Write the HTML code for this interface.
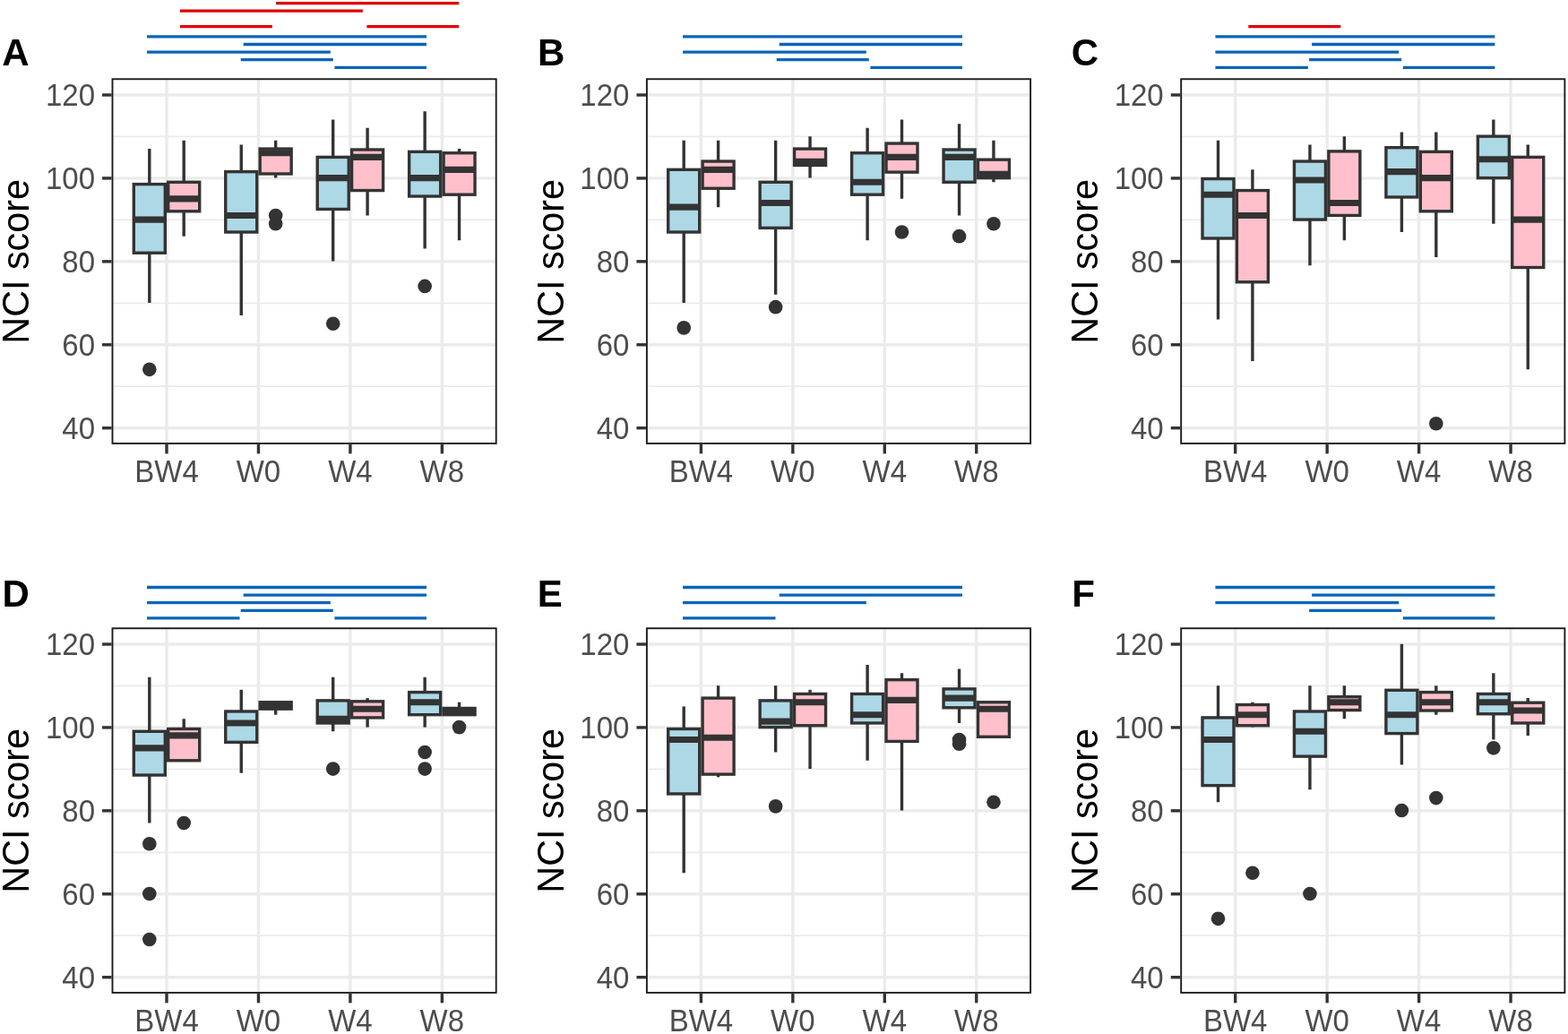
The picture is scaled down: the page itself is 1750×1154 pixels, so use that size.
<!DOCTYPE html><html><head><meta charset="utf-8"><title>NCI score boxplots</title><style>html,body{margin:0;padding:0;background:#fff;overflow:hidden;}svg{display:block;}.t{font-family:"Liberation Sans",Arial,sans-serif;}</style></head><body>
<svg width="1750" height="1154" viewBox="0 0 1750 1154">
<rect width="1750" height="1154" fill="#fff"/>
<clipPath id="cA"><rect x="124.55" y="87.3" width="430.1" height="408.55"/></clipPath>
<g clip-path="url(#cA)">
<line x1="124.55" x2="554.65" y1="431.22" y2="431.22" stroke="#EBEBEB" stroke-width="1.7"/>
<line x1="124.55" x2="554.65" y1="338.3" y2="338.3" stroke="#EBEBEB" stroke-width="1.7"/>
<line x1="124.55" x2="554.65" y1="245.38" y2="245.38" stroke="#EBEBEB" stroke-width="1.7"/>
<line x1="124.55" x2="554.65" y1="152.46" y2="152.46" stroke="#EBEBEB" stroke-width="1.7"/>
<line x1="124.55" x2="554.65" y1="477.68" y2="477.68" stroke="#EBEBEB" stroke-width="3.4"/>
<line x1="124.55" x2="554.65" y1="384.76" y2="384.76" stroke="#EBEBEB" stroke-width="3.4"/>
<line x1="124.55" x2="554.65" y1="291.84" y2="291.84" stroke="#EBEBEB" stroke-width="3.4"/>
<line x1="124.55" x2="554.65" y1="198.92" y2="198.92" stroke="#EBEBEB" stroke-width="3.4"/>
<line x1="124.55" x2="554.65" y1="106" y2="106" stroke="#EBEBEB" stroke-width="3.4"/>
<line x1="186" x2="186" y1="87.3" y2="495.85" stroke="#EBEBEB" stroke-width="3.4"/>
<line x1="288.45" x2="288.45" y1="87.3" y2="495.85" stroke="#EBEBEB" stroke-width="3.4"/>
<line x1="390.9" x2="390.9" y1="87.3" y2="495.85" stroke="#EBEBEB" stroke-width="3.4"/>
<line x1="493.35" x2="493.35" y1="87.3" y2="495.85" stroke="#EBEBEB" stroke-width="3.4"/>
<line x1="166.8" x2="166.8" y1="166.1" y2="205.59" stroke="#333333" stroke-width="3.4"/>
<line x1="166.8" x2="166.8" y1="282.25" y2="338" stroke="#333333" stroke-width="3.4"/>
<rect x="149.3" y="205.59" width="35" height="76.66" fill="#ADD8E6" stroke="#333333" stroke-width="3.4"/>
<line x1="149.3" x2="184.3" y1="245.08" y2="245.08" stroke="#333333" stroke-width="7.1"/>
<circle cx="166.8" cy="412.34" r="7.8" fill="#333333"/>
<line x1="205.2" x2="205.2" y1="156.81" y2="203.27" stroke="#333333" stroke-width="3.4"/>
<line x1="205.2" x2="205.2" y1="235.79" y2="263.66" stroke="#333333" stroke-width="3.4"/>
<rect x="187.7" y="203.27" width="35" height="32.52" fill="#FFC0CB" stroke="#333333" stroke-width="3.4"/>
<line x1="187.7" x2="222.7" y1="221.85" y2="221.85" stroke="#333333" stroke-width="7.1"/>
<line x1="269.25" x2="269.25" y1="161.45" y2="191.65" stroke="#333333" stroke-width="3.4"/>
<line x1="269.25" x2="269.25" y1="259.02" y2="351.94" stroke="#333333" stroke-width="3.4"/>
<rect x="251.75" y="191.65" width="35" height="67.37" fill="#ADD8E6" stroke="#333333" stroke-width="3.4"/>
<line x1="251.75" x2="286.75" y1="240.43" y2="240.43" stroke="#333333" stroke-width="7.1"/>
<line x1="307.65" x2="307.65" y1="156.81" y2="166.1" stroke="#333333" stroke-width="3.4"/>
<line x1="307.65" x2="307.65" y1="193.97" y2="198.62" stroke="#333333" stroke-width="3.4"/>
<rect x="290.15" y="166.1" width="35" height="27.88" fill="#FFC0CB" stroke="#333333" stroke-width="3.4"/>
<line x1="290.15" x2="325.15" y1="170.74" y2="170.74" stroke="#333333" stroke-width="7.1"/>
<circle cx="307.65" cy="240.43" r="7.8" fill="#333333"/>
<circle cx="307.65" cy="249.73" r="7.8" fill="#333333"/>
<line x1="371.7" x2="371.7" y1="133.58" y2="175.39" stroke="#333333" stroke-width="3.4"/>
<line x1="371.7" x2="371.7" y1="233.46" y2="291.54" stroke="#333333" stroke-width="3.4"/>
<rect x="354.2" y="175.39" width="35" height="58.07" fill="#ADD8E6" stroke="#333333" stroke-width="3.4"/>
<line x1="354.2" x2="389.2" y1="198.62" y2="198.62" stroke="#333333" stroke-width="7.1"/>
<circle cx="371.7" cy="361.23" r="7.8" fill="#333333"/>
<line x1="410.1" x2="410.1" y1="142.87" y2="167.03" stroke="#333333" stroke-width="3.4"/>
<line x1="410.1" x2="410.1" y1="212.56" y2="240.43" stroke="#333333" stroke-width="3.4"/>
<rect x="392.6" y="167.03" width="35" height="45.53" fill="#FFC0CB" stroke="#333333" stroke-width="3.4"/>
<line x1="392.6" x2="427.6" y1="175.39" y2="175.39" stroke="#333333" stroke-width="7.1"/>
<line x1="474.15" x2="474.15" y1="124.28" y2="169.35" stroke="#333333" stroke-width="3.4"/>
<line x1="474.15" x2="474.15" y1="219.06" y2="277.6" stroke="#333333" stroke-width="3.4"/>
<rect x="456.65" y="169.35" width="35" height="49.71" fill="#ADD8E6" stroke="#333333" stroke-width="3.4"/>
<line x1="456.65" x2="491.65" y1="198.62" y2="198.62" stroke="#333333" stroke-width="7.1"/>
<circle cx="474.15" cy="319.42" r="7.8" fill="#333333"/>
<line x1="512.55" x2="512.55" y1="166.1" y2="170.74" stroke="#333333" stroke-width="3.4"/>
<line x1="512.55" x2="512.55" y1="217.2" y2="268.31" stroke="#333333" stroke-width="3.4"/>
<rect x="495.05" y="170.74" width="35" height="46.46" fill="#FFC0CB" stroke="#333333" stroke-width="3.4"/>
<line x1="495.05" x2="530.05" y1="189.33" y2="189.33" stroke="#333333" stroke-width="7.1"/>
</g>
<rect x="125.5" y="88.25" width="428.2" height="406.65" fill="none" stroke="#1c1c1c" stroke-width="1.9"/>
<line x1="114.05" x2="124.55" y1="477.68" y2="477.68" stroke="#333333" stroke-width="3.4"/>
<line x1="114.05" x2="124.55" y1="384.76" y2="384.76" stroke="#333333" stroke-width="3.4"/>
<line x1="114.05" x2="124.55" y1="291.84" y2="291.84" stroke="#333333" stroke-width="3.4"/>
<line x1="114.05" x2="124.55" y1="198.92" y2="198.92" stroke="#333333" stroke-width="3.4"/>
<line x1="114.05" x2="124.55" y1="106" y2="106" stroke="#333333" stroke-width="3.4"/>
<line x1="186" x2="186" y1="495.85" y2="506.35" stroke="#333333" stroke-width="3.4"/>
<line x1="288.45" x2="288.45" y1="495.85" y2="506.35" stroke="#333333" stroke-width="3.4"/>
<line x1="390.9" x2="390.9" y1="495.85" y2="506.35" stroke="#333333" stroke-width="3.4"/>
<line x1="493.35" x2="493.35" y1="495.85" y2="506.35" stroke="#333333" stroke-width="3.4"/>
<text class="t" transform="translate(106 477.28) scale(1 1.05)" font-size="33" fill="#4D4D4D" text-anchor="end" dominant-baseline="central">40</text>
<text class="t" transform="translate(106 384.36) scale(1 1.05)" font-size="33" fill="#4D4D4D" text-anchor="end" dominant-baseline="central">60</text>
<text class="t" transform="translate(106 291.44) scale(1 1.05)" font-size="33" fill="#4D4D4D" text-anchor="end" dominant-baseline="central">80</text>
<text class="t" transform="translate(106 198.52) scale(1 1.05)" font-size="33" fill="#4D4D4D" text-anchor="end" dominant-baseline="central">100</text>
<text class="t" transform="translate(106 105.6) scale(1 1.05)" font-size="33" fill="#4D4D4D" text-anchor="end" dominant-baseline="central">120</text>
<text class="t" transform="translate(186 538.1) scale(1 1.05)" font-size="33" fill="#4D4D4D" text-anchor="middle">BW4</text>
<text class="t" transform="translate(288.45 538.1) scale(1 1.05)" font-size="33" fill="#4D4D4D" text-anchor="middle">W0</text>
<text class="t" transform="translate(390.9 538.1) scale(1 1.05)" font-size="33" fill="#4D4D4D" text-anchor="middle">W4</text>
<text class="t" transform="translate(493.35 538.1) scale(1 1.05)" font-size="33" fill="#4D4D4D" text-anchor="middle">W8</text>
<text class="t" font-size="41.3" fill="#000" text-anchor="middle" transform="translate(32.3 291.9) rotate(-90) scale(1 1.04)">NCI score</text>
<text class="t" x="2.36" y="73.4" font-size="42" font-weight="bold" fill="#000">A</text>
<line x1="164" x2="476" y1="40.9" y2="40.9" stroke="#0864B8" stroke-width="3.3"/>
<line x1="271.7" x2="476" y1="49.5" y2="49.5" stroke="#0864B8" stroke-width="3.3"/>
<line x1="164" x2="368.8" y1="58.05" y2="58.05" stroke="#0864B8" stroke-width="3.3"/>
<line x1="268.7" x2="371.8" y1="66.7" y2="66.7" stroke="#0864B8" stroke-width="3.3"/>
<line x1="373.4" x2="476" y1="75.35" y2="75.35" stroke="#0864B8" stroke-width="3.3"/>
<line x1="308.1" x2="512.2" y1="3.66" y2="3.66" stroke="#E00000" stroke-width="3.3"/>
<line x1="200.9" x2="404.9" y1="12.2" y2="12.2" stroke="#E00000" stroke-width="3.3"/>
<line x1="200.9" x2="303.9" y1="29.7" y2="29.7" stroke="#E00000" stroke-width="3.3"/>
<line x1="409.4" x2="512.2" y1="29.7" y2="29.7" stroke="#E00000" stroke-width="3.3"/>
<clipPath id="cB"><rect x="720.95" y="87.3" width="430.1" height="408.55"/></clipPath>
<g clip-path="url(#cB)">
<line x1="720.95" x2="1151.05" y1="431.22" y2="431.22" stroke="#EBEBEB" stroke-width="1.7"/>
<line x1="720.95" x2="1151.05" y1="338.3" y2="338.3" stroke="#EBEBEB" stroke-width="1.7"/>
<line x1="720.95" x2="1151.05" y1="245.38" y2="245.38" stroke="#EBEBEB" stroke-width="1.7"/>
<line x1="720.95" x2="1151.05" y1="152.46" y2="152.46" stroke="#EBEBEB" stroke-width="1.7"/>
<line x1="720.95" x2="1151.05" y1="477.68" y2="477.68" stroke="#EBEBEB" stroke-width="3.4"/>
<line x1="720.95" x2="1151.05" y1="384.76" y2="384.76" stroke="#EBEBEB" stroke-width="3.4"/>
<line x1="720.95" x2="1151.05" y1="291.84" y2="291.84" stroke="#EBEBEB" stroke-width="3.4"/>
<line x1="720.95" x2="1151.05" y1="198.92" y2="198.92" stroke="#EBEBEB" stroke-width="3.4"/>
<line x1="720.95" x2="1151.05" y1="106" y2="106" stroke="#EBEBEB" stroke-width="3.4"/>
<line x1="782.4" x2="782.4" y1="87.3" y2="495.85" stroke="#EBEBEB" stroke-width="3.4"/>
<line x1="884.85" x2="884.85" y1="87.3" y2="495.85" stroke="#EBEBEB" stroke-width="3.4"/>
<line x1="987.3" x2="987.3" y1="87.3" y2="495.85" stroke="#EBEBEB" stroke-width="3.4"/>
<line x1="1089.75" x2="1089.75" y1="87.3" y2="495.85" stroke="#EBEBEB" stroke-width="3.4"/>
<line x1="763.2" x2="763.2" y1="156.81" y2="189.33" stroke="#333333" stroke-width="3.4"/>
<line x1="763.2" x2="763.2" y1="259.02" y2="338" stroke="#333333" stroke-width="3.4"/>
<rect x="745.7" y="189.33" width="35" height="69.69" fill="#ADD8E6" stroke="#333333" stroke-width="3.4"/>
<line x1="745.7" x2="780.7" y1="231.14" y2="231.14" stroke="#333333" stroke-width="7.1"/>
<circle cx="763.2" cy="365.88" r="7.8" fill="#333333"/>
<line x1="801.6" x2="801.6" y1="156.81" y2="180.04" stroke="#333333" stroke-width="3.4"/>
<line x1="801.6" x2="801.6" y1="210.23" y2="231.14" stroke="#333333" stroke-width="3.4"/>
<rect x="784.1" y="180.04" width="35" height="30.2" fill="#FFC0CB" stroke="#333333" stroke-width="3.4"/>
<line x1="784.1" x2="819.1" y1="189.33" y2="189.33" stroke="#333333" stroke-width="7.1"/>
<line x1="865.65" x2="865.65" y1="156.81" y2="203.27" stroke="#333333" stroke-width="3.4"/>
<line x1="865.65" x2="865.65" y1="254.37" y2="328.71" stroke="#333333" stroke-width="3.4"/>
<rect x="848.15" y="203.27" width="35" height="51.11" fill="#ADD8E6" stroke="#333333" stroke-width="3.4"/>
<line x1="848.15" x2="883.15" y1="226.5" y2="226.5" stroke="#333333" stroke-width="7.1"/>
<circle cx="865.65" cy="342.65" r="7.8" fill="#333333"/>
<line x1="904.05" x2="904.05" y1="152.16" y2="166.1" stroke="#333333" stroke-width="3.4"/>
<line x1="904.05" x2="904.05" y1="184.45" y2="198.62" stroke="#333333" stroke-width="3.4"/>
<rect x="886.55" y="166.1" width="35" height="18.35" fill="#FFC0CB" stroke="#333333" stroke-width="3.4"/>
<line x1="886.55" x2="921.55" y1="180.27" y2="180.27" stroke="#333333" stroke-width="7.1"/>
<line x1="968.1" x2="968.1" y1="142.87" y2="170.74" stroke="#333333" stroke-width="3.4"/>
<line x1="968.1" x2="968.1" y1="217.2" y2="268.31" stroke="#333333" stroke-width="3.4"/>
<rect x="950.6" y="170.74" width="35" height="46.46" fill="#ADD8E6" stroke="#333333" stroke-width="3.4"/>
<line x1="950.6" x2="985.6" y1="203.27" y2="203.27" stroke="#333333" stroke-width="7.1"/>
<line x1="1006.5" x2="1006.5" y1="133.58" y2="160.06" stroke="#333333" stroke-width="3.4"/>
<line x1="1006.5" x2="1006.5" y1="192.12" y2="221.85" stroke="#333333" stroke-width="3.4"/>
<rect x="989" y="160.06" width="35" height="32.06" fill="#FFC0CB" stroke="#333333" stroke-width="3.4"/>
<line x1="989" x2="1024" y1="175.39" y2="175.39" stroke="#333333" stroke-width="7.1"/>
<circle cx="1006.5" cy="259.02" r="7.8" fill="#333333"/>
<line x1="1070.55" x2="1070.55" y1="138.22" y2="167.03" stroke="#333333" stroke-width="3.4"/>
<line x1="1070.55" x2="1070.55" y1="203.27" y2="240.43" stroke="#333333" stroke-width="3.4"/>
<rect x="1053.05" y="167.03" width="35" height="36.24" fill="#ADD8E6" stroke="#333333" stroke-width="3.4"/>
<line x1="1053.05" x2="1088.05" y1="175.39" y2="175.39" stroke="#333333" stroke-width="7.1"/>
<circle cx="1070.55" cy="263.66" r="7.8" fill="#333333"/>
<line x1="1108.95" x2="1108.95" y1="156.81" y2="178.18" stroke="#333333" stroke-width="3.4"/>
<line x1="1108.95" x2="1108.95" y1="198.62" y2="203.27" stroke="#333333" stroke-width="3.4"/>
<rect x="1091.45" y="178.18" width="35" height="20.44" fill="#FFC0CB" stroke="#333333" stroke-width="3.4"/>
<line x1="1091.45" x2="1126.45" y1="194.21" y2="194.21" stroke="#333333" stroke-width="7.1"/>
<circle cx="1108.95" cy="249.73" r="7.8" fill="#333333"/>
</g>
<rect x="721.9" y="88.25" width="428.2" height="406.65" fill="none" stroke="#1c1c1c" stroke-width="1.9"/>
<line x1="710.45" x2="720.95" y1="477.68" y2="477.68" stroke="#333333" stroke-width="3.4"/>
<line x1="710.45" x2="720.95" y1="384.76" y2="384.76" stroke="#333333" stroke-width="3.4"/>
<line x1="710.45" x2="720.95" y1="291.84" y2="291.84" stroke="#333333" stroke-width="3.4"/>
<line x1="710.45" x2="720.95" y1="198.92" y2="198.92" stroke="#333333" stroke-width="3.4"/>
<line x1="710.45" x2="720.95" y1="106" y2="106" stroke="#333333" stroke-width="3.4"/>
<line x1="782.4" x2="782.4" y1="495.85" y2="506.35" stroke="#333333" stroke-width="3.4"/>
<line x1="884.85" x2="884.85" y1="495.85" y2="506.35" stroke="#333333" stroke-width="3.4"/>
<line x1="987.3" x2="987.3" y1="495.85" y2="506.35" stroke="#333333" stroke-width="3.4"/>
<line x1="1089.75" x2="1089.75" y1="495.85" y2="506.35" stroke="#333333" stroke-width="3.4"/>
<text class="t" transform="translate(702.4 477.28) scale(1 1.05)" font-size="33" fill="#4D4D4D" text-anchor="end" dominant-baseline="central">40</text>
<text class="t" transform="translate(702.4 384.36) scale(1 1.05)" font-size="33" fill="#4D4D4D" text-anchor="end" dominant-baseline="central">60</text>
<text class="t" transform="translate(702.4 291.44) scale(1 1.05)" font-size="33" fill="#4D4D4D" text-anchor="end" dominant-baseline="central">80</text>
<text class="t" transform="translate(702.4 198.52) scale(1 1.05)" font-size="33" fill="#4D4D4D" text-anchor="end" dominant-baseline="central">100</text>
<text class="t" transform="translate(702.4 105.6) scale(1 1.05)" font-size="33" fill="#4D4D4D" text-anchor="end" dominant-baseline="central">120</text>
<text class="t" transform="translate(782.4 538.1) scale(1 1.05)" font-size="33" fill="#4D4D4D" text-anchor="middle">BW4</text>
<text class="t" transform="translate(884.85 538.1) scale(1 1.05)" font-size="33" fill="#4D4D4D" text-anchor="middle">W0</text>
<text class="t" transform="translate(987.3 538.1) scale(1 1.05)" font-size="33" fill="#4D4D4D" text-anchor="middle">W4</text>
<text class="t" transform="translate(1089.75 538.1) scale(1 1.05)" font-size="33" fill="#4D4D4D" text-anchor="middle">W8</text>
<text class="t" font-size="41.3" fill="#000" text-anchor="middle" transform="translate(628.7 291.9) rotate(-90) scale(1 1.04)">NCI score</text>
<text class="t" x="599.93" y="73.4" font-size="42" font-weight="bold" fill="#000">B</text>
<line x1="762" x2="1074" y1="40.9" y2="40.9" stroke="#0864B8" stroke-width="3.3"/>
<line x1="869.7" x2="1074" y1="49.5" y2="49.5" stroke="#0864B8" stroke-width="3.3"/>
<line x1="762" x2="966.8" y1="58.05" y2="58.05" stroke="#0864B8" stroke-width="3.3"/>
<line x1="866.7" x2="969.8" y1="66.7" y2="66.7" stroke="#0864B8" stroke-width="3.3"/>
<line x1="971.4" x2="1074" y1="75.35" y2="75.35" stroke="#0864B8" stroke-width="3.3"/>
<clipPath id="cC"><rect x="1317.25" y="87.3" width="430.1" height="408.55"/></clipPath>
<g clip-path="url(#cC)">
<line x1="1317.25" x2="1747.35" y1="431.22" y2="431.22" stroke="#EBEBEB" stroke-width="1.7"/>
<line x1="1317.25" x2="1747.35" y1="338.3" y2="338.3" stroke="#EBEBEB" stroke-width="1.7"/>
<line x1="1317.25" x2="1747.35" y1="245.38" y2="245.38" stroke="#EBEBEB" stroke-width="1.7"/>
<line x1="1317.25" x2="1747.35" y1="152.46" y2="152.46" stroke="#EBEBEB" stroke-width="1.7"/>
<line x1="1317.25" x2="1747.35" y1="477.68" y2="477.68" stroke="#EBEBEB" stroke-width="3.4"/>
<line x1="1317.25" x2="1747.35" y1="384.76" y2="384.76" stroke="#EBEBEB" stroke-width="3.4"/>
<line x1="1317.25" x2="1747.35" y1="291.84" y2="291.84" stroke="#EBEBEB" stroke-width="3.4"/>
<line x1="1317.25" x2="1747.35" y1="198.92" y2="198.92" stroke="#EBEBEB" stroke-width="3.4"/>
<line x1="1317.25" x2="1747.35" y1="106" y2="106" stroke="#EBEBEB" stroke-width="3.4"/>
<line x1="1378.7" x2="1378.7" y1="87.3" y2="495.85" stroke="#EBEBEB" stroke-width="3.4"/>
<line x1="1481.15" x2="1481.15" y1="87.3" y2="495.85" stroke="#EBEBEB" stroke-width="3.4"/>
<line x1="1583.6" x2="1583.6" y1="87.3" y2="495.85" stroke="#EBEBEB" stroke-width="3.4"/>
<line x1="1686.05" x2="1686.05" y1="87.3" y2="495.85" stroke="#EBEBEB" stroke-width="3.4"/>
<line x1="1359.5" x2="1359.5" y1="156.81" y2="199.55" stroke="#333333" stroke-width="3.4"/>
<line x1="1359.5" x2="1359.5" y1="265.99" y2="356.58" stroke="#333333" stroke-width="3.4"/>
<rect x="1342" y="199.55" width="35" height="66.44" fill="#ADD8E6" stroke="#333333" stroke-width="3.4"/>
<line x1="1342" x2="1377" y1="217.2" y2="217.2" stroke="#333333" stroke-width="7.1"/>
<line x1="1397.9" x2="1397.9" y1="189.33" y2="212.56" stroke="#333333" stroke-width="3.4"/>
<line x1="1397.9" x2="1397.9" y1="314.77" y2="403.04" stroke="#333333" stroke-width="3.4"/>
<rect x="1380.4" y="212.56" width="35" height="102.21" fill="#FFC0CB" stroke="#333333" stroke-width="3.4"/>
<line x1="1380.4" x2="1415.4" y1="240.43" y2="240.43" stroke="#333333" stroke-width="7.1"/>
<line x1="1461.95" x2="1461.95" y1="161.45" y2="180.04" stroke="#333333" stroke-width="3.4"/>
<line x1="1461.95" x2="1461.95" y1="245.08" y2="296.19" stroke="#333333" stroke-width="3.4"/>
<rect x="1444.45" y="180.04" width="35" height="65.04" fill="#ADD8E6" stroke="#333333" stroke-width="3.4"/>
<line x1="1444.45" x2="1479.45" y1="200.94" y2="200.94" stroke="#333333" stroke-width="7.1"/>
<line x1="1500.35" x2="1500.35" y1="152.16" y2="168.89" stroke="#333333" stroke-width="3.4"/>
<line x1="1500.35" x2="1500.35" y1="240.43" y2="268.31" stroke="#333333" stroke-width="3.4"/>
<rect x="1482.85" y="168.89" width="35" height="71.55" fill="#FFC0CB" stroke="#333333" stroke-width="3.4"/>
<line x1="1482.85" x2="1517.85" y1="226.5" y2="226.5" stroke="#333333" stroke-width="7.1"/>
<line x1="1564.4" x2="1564.4" y1="147.51" y2="164.7" stroke="#333333" stroke-width="3.4"/>
<line x1="1564.4" x2="1564.4" y1="219.99" y2="259.02" stroke="#333333" stroke-width="3.4"/>
<rect x="1546.9" y="164.7" width="35" height="55.29" fill="#ADD8E6" stroke="#333333" stroke-width="3.4"/>
<line x1="1546.9" x2="1581.9" y1="191.65" y2="191.65" stroke="#333333" stroke-width="7.1"/>
<line x1="1602.8" x2="1602.8" y1="147.51" y2="169.35" stroke="#333333" stroke-width="3.4"/>
<line x1="1602.8" x2="1602.8" y1="235.79" y2="286.89" stroke="#333333" stroke-width="3.4"/>
<rect x="1585.3" y="169.35" width="35" height="66.44" fill="#FFC0CB" stroke="#333333" stroke-width="3.4"/>
<line x1="1585.3" x2="1620.3" y1="198.62" y2="198.62" stroke="#333333" stroke-width="7.1"/>
<circle cx="1602.8" cy="472.73" r="7.8" fill="#333333"/>
<line x1="1666.85" x2="1666.85" y1="133.58" y2="152.16" stroke="#333333" stroke-width="3.4"/>
<line x1="1666.85" x2="1666.85" y1="198.62" y2="249.73" stroke="#333333" stroke-width="3.4"/>
<rect x="1649.35" y="152.16" width="35" height="46.46" fill="#ADD8E6" stroke="#333333" stroke-width="3.4"/>
<line x1="1649.35" x2="1684.35" y1="177.71" y2="177.71" stroke="#333333" stroke-width="7.1"/>
<line x1="1705.25" x2="1705.25" y1="161.45" y2="175.39" stroke="#333333" stroke-width="3.4"/>
<line x1="1705.25" x2="1705.25" y1="298.51" y2="412.34" stroke="#333333" stroke-width="3.4"/>
<rect x="1687.75" y="175.39" width="35" height="123.12" fill="#FFC0CB" stroke="#333333" stroke-width="3.4"/>
<line x1="1687.75" x2="1722.75" y1="245.08" y2="245.08" stroke="#333333" stroke-width="7.1"/>
</g>
<rect x="1318.2" y="88.25" width="428.2" height="406.65" fill="none" stroke="#1c1c1c" stroke-width="1.9"/>
<line x1="1306.75" x2="1317.25" y1="477.68" y2="477.68" stroke="#333333" stroke-width="3.4"/>
<line x1="1306.75" x2="1317.25" y1="384.76" y2="384.76" stroke="#333333" stroke-width="3.4"/>
<line x1="1306.75" x2="1317.25" y1="291.84" y2="291.84" stroke="#333333" stroke-width="3.4"/>
<line x1="1306.75" x2="1317.25" y1="198.92" y2="198.92" stroke="#333333" stroke-width="3.4"/>
<line x1="1306.75" x2="1317.25" y1="106" y2="106" stroke="#333333" stroke-width="3.4"/>
<line x1="1378.7" x2="1378.7" y1="495.85" y2="506.35" stroke="#333333" stroke-width="3.4"/>
<line x1="1481.15" x2="1481.15" y1="495.85" y2="506.35" stroke="#333333" stroke-width="3.4"/>
<line x1="1583.6" x2="1583.6" y1="495.85" y2="506.35" stroke="#333333" stroke-width="3.4"/>
<line x1="1686.05" x2="1686.05" y1="495.85" y2="506.35" stroke="#333333" stroke-width="3.4"/>
<text class="t" transform="translate(1298.7 477.28) scale(1 1.05)" font-size="33" fill="#4D4D4D" text-anchor="end" dominant-baseline="central">40</text>
<text class="t" transform="translate(1298.7 384.36) scale(1 1.05)" font-size="33" fill="#4D4D4D" text-anchor="end" dominant-baseline="central">60</text>
<text class="t" transform="translate(1298.7 291.44) scale(1 1.05)" font-size="33" fill="#4D4D4D" text-anchor="end" dominant-baseline="central">80</text>
<text class="t" transform="translate(1298.7 198.52) scale(1 1.05)" font-size="33" fill="#4D4D4D" text-anchor="end" dominant-baseline="central">100</text>
<text class="t" transform="translate(1298.7 105.6) scale(1 1.05)" font-size="33" fill="#4D4D4D" text-anchor="end" dominant-baseline="central">120</text>
<text class="t" transform="translate(1378.7 538.1) scale(1 1.05)" font-size="33" fill="#4D4D4D" text-anchor="middle">BW4</text>
<text class="t" transform="translate(1481.15 538.1) scale(1 1.05)" font-size="33" fill="#4D4D4D" text-anchor="middle">W0</text>
<text class="t" transform="translate(1583.6 538.1) scale(1 1.05)" font-size="33" fill="#4D4D4D" text-anchor="middle">W4</text>
<text class="t" transform="translate(1686.05 538.1) scale(1 1.05)" font-size="33" fill="#4D4D4D" text-anchor="middle">W8</text>
<text class="t" font-size="41.3" fill="#000" text-anchor="middle" transform="translate(1225 291.9) rotate(-90) scale(1 1.04)">NCI score</text>
<text class="t" x="1195.75" y="73.4" font-size="42" font-weight="bold" fill="#000">C</text>
<line x1="1356.4" x2="1668.4" y1="40.9" y2="40.9" stroke="#0864B8" stroke-width="3.3"/>
<line x1="1464.1" x2="1668.4" y1="49.5" y2="49.5" stroke="#0864B8" stroke-width="3.3"/>
<line x1="1356.4" x2="1561.2" y1="58.05" y2="58.05" stroke="#0864B8" stroke-width="3.3"/>
<line x1="1461.1" x2="1564.2" y1="66.7" y2="66.7" stroke="#0864B8" stroke-width="3.3"/>
<line x1="1356.4" x2="1459.9" y1="75.35" y2="75.35" stroke="#0864B8" stroke-width="3.3"/>
<line x1="1565.8" x2="1668.4" y1="75.35" y2="75.35" stroke="#0864B8" stroke-width="3.3"/>
<line x1="1393.3" x2="1496.3" y1="29.6" y2="29.6" stroke="#E00000" stroke-width="3.3"/>
<clipPath id="cD"><rect x="124.55" y="700.3" width="430.1" height="408.55"/></clipPath>
<g clip-path="url(#cD)">
<line x1="124.55" x2="554.65" y1="1044.22" y2="1044.22" stroke="#EBEBEB" stroke-width="1.7"/>
<line x1="124.55" x2="554.65" y1="951.3" y2="951.3" stroke="#EBEBEB" stroke-width="1.7"/>
<line x1="124.55" x2="554.65" y1="858.38" y2="858.38" stroke="#EBEBEB" stroke-width="1.7"/>
<line x1="124.55" x2="554.65" y1="765.46" y2="765.46" stroke="#EBEBEB" stroke-width="1.7"/>
<line x1="124.55" x2="554.65" y1="1090.68" y2="1090.68" stroke="#EBEBEB" stroke-width="3.4"/>
<line x1="124.55" x2="554.65" y1="997.76" y2="997.76" stroke="#EBEBEB" stroke-width="3.4"/>
<line x1="124.55" x2="554.65" y1="904.84" y2="904.84" stroke="#EBEBEB" stroke-width="3.4"/>
<line x1="124.55" x2="554.65" y1="811.92" y2="811.92" stroke="#EBEBEB" stroke-width="3.4"/>
<line x1="124.55" x2="554.65" y1="719" y2="719" stroke="#EBEBEB" stroke-width="3.4"/>
<line x1="186" x2="186" y1="700.3" y2="1108.85" stroke="#EBEBEB" stroke-width="3.4"/>
<line x1="288.45" x2="288.45" y1="700.3" y2="1108.85" stroke="#EBEBEB" stroke-width="3.4"/>
<line x1="390.9" x2="390.9" y1="700.3" y2="1108.85" stroke="#EBEBEB" stroke-width="3.4"/>
<line x1="493.35" x2="493.35" y1="700.3" y2="1108.85" stroke="#EBEBEB" stroke-width="3.4"/>
<line x1="166.8" x2="166.8" y1="755.87" y2="816.27" stroke="#333333" stroke-width="3.4"/>
<line x1="166.8" x2="166.8" y1="865.05" y2="918.48" stroke="#333333" stroke-width="3.4"/>
<rect x="149.3" y="816.27" width="35" height="48.78" fill="#ADD8E6" stroke="#333333" stroke-width="3.4"/>
<line x1="149.3" x2="184.3" y1="834.85" y2="834.85" stroke="#333333" stroke-width="7.1"/>
<circle cx="166.8" cy="941.71" r="7.8" fill="#333333"/>
<circle cx="166.8" cy="997.46" r="7.8" fill="#333333"/>
<circle cx="166.8" cy="1048.57" r="7.8" fill="#333333"/>
<line x1="205.2" x2="205.2" y1="802.33" y2="813.48" stroke="#333333" stroke-width="3.4"/>
<rect x="187.7" y="813.48" width="35" height="35.31" fill="#FFC0CB" stroke="#333333" stroke-width="3.4"/>
<line x1="187.7" x2="222.7" y1="820.91" y2="820.91" stroke="#333333" stroke-width="7.1"/>
<circle cx="205.2" cy="918.48" r="7.8" fill="#333333"/>
<line x1="269.25" x2="269.25" y1="769.81" y2="793.97" stroke="#333333" stroke-width="3.4"/>
<line x1="269.25" x2="269.25" y1="828.35" y2="862.73" stroke="#333333" stroke-width="3.4"/>
<rect x="251.75" y="793.97" width="35" height="34.38" fill="#ADD8E6" stroke="#333333" stroke-width="3.4"/>
<line x1="251.75" x2="286.75" y1="806.97" y2="806.97" stroke="#333333" stroke-width="7.1"/>
<line x1="307.65" x2="307.65" y1="791.18" y2="797.68" stroke="#333333" stroke-width="3.4"/>
<rect x="290.15" y="783.74" width="35" height="7.43" fill="#FFC0CB" stroke="#333333" stroke-width="3.4"/>
<line x1="290.15" x2="325.15" y1="788.39" y2="788.39" stroke="#333333" stroke-width="7.1"/>
<line x1="371.7" x2="371.7" y1="755.87" y2="781.89" stroke="#333333" stroke-width="3.4"/>
<line x1="371.7" x2="371.7" y1="806.97" y2="816.27" stroke="#333333" stroke-width="3.4"/>
<rect x="354.2" y="781.89" width="35" height="25.09" fill="#ADD8E6" stroke="#333333" stroke-width="3.4"/>
<line x1="354.2" x2="389.2" y1="802.33" y2="802.33" stroke="#333333" stroke-width="7.1"/>
<circle cx="371.7" cy="858.08" r="7.8" fill="#333333"/>
<line x1="410.1" x2="410.1" y1="779.1" y2="782.81" stroke="#333333" stroke-width="3.4"/>
<line x1="410.1" x2="410.1" y1="800.93" y2="811.62" stroke="#333333" stroke-width="3.4"/>
<rect x="392.6" y="782.81" width="35" height="18.12" fill="#FFC0CB" stroke="#333333" stroke-width="3.4"/>
<line x1="392.6" x2="427.6" y1="791.18" y2="791.18" stroke="#333333" stroke-width="7.1"/>
<line x1="474.15" x2="474.15" y1="755.87" y2="772.59" stroke="#333333" stroke-width="3.4"/>
<line x1="474.15" x2="474.15" y1="797.68" y2="811.62" stroke="#333333" stroke-width="3.4"/>
<rect x="456.65" y="772.59" width="35" height="25.09" fill="#ADD8E6" stroke="#333333" stroke-width="3.4"/>
<line x1="456.65" x2="491.65" y1="783.74" y2="783.74" stroke="#333333" stroke-width="7.1"/>
<circle cx="474.15" cy="839.5" r="7.8" fill="#333333"/>
<circle cx="474.15" cy="858.08" r="7.8" fill="#333333"/>
<line x1="512.55" x2="512.55" y1="783.74" y2="790.48" stroke="#333333" stroke-width="3.4"/>
<rect x="495.05" y="790.48" width="35" height="7.2" fill="#FFC0CB" stroke="#333333" stroke-width="3.4"/>
<line x1="495.05" x2="530.05" y1="793.04" y2="793.04" stroke="#333333" stroke-width="7.1"/>
<circle cx="512.55" cy="811.62" r="7.8" fill="#333333"/>
</g>
<rect x="125.5" y="701.25" width="428.2" height="406.65" fill="none" stroke="#1c1c1c" stroke-width="1.9"/>
<line x1="114.05" x2="124.55" y1="1090.68" y2="1090.68" stroke="#333333" stroke-width="3.4"/>
<line x1="114.05" x2="124.55" y1="997.76" y2="997.76" stroke="#333333" stroke-width="3.4"/>
<line x1="114.05" x2="124.55" y1="904.84" y2="904.84" stroke="#333333" stroke-width="3.4"/>
<line x1="114.05" x2="124.55" y1="811.92" y2="811.92" stroke="#333333" stroke-width="3.4"/>
<line x1="114.05" x2="124.55" y1="719" y2="719" stroke="#333333" stroke-width="3.4"/>
<line x1="186" x2="186" y1="1108.85" y2="1119.35" stroke="#333333" stroke-width="3.4"/>
<line x1="288.45" x2="288.45" y1="1108.85" y2="1119.35" stroke="#333333" stroke-width="3.4"/>
<line x1="390.9" x2="390.9" y1="1108.85" y2="1119.35" stroke="#333333" stroke-width="3.4"/>
<line x1="493.35" x2="493.35" y1="1108.85" y2="1119.35" stroke="#333333" stroke-width="3.4"/>
<text class="t" transform="translate(106 1090.28) scale(1 1.05)" font-size="33" fill="#4D4D4D" text-anchor="end" dominant-baseline="central">40</text>
<text class="t" transform="translate(106 997.36) scale(1 1.05)" font-size="33" fill="#4D4D4D" text-anchor="end" dominant-baseline="central">60</text>
<text class="t" transform="translate(106 904.44) scale(1 1.05)" font-size="33" fill="#4D4D4D" text-anchor="end" dominant-baseline="central">80</text>
<text class="t" transform="translate(106 811.52) scale(1 1.05)" font-size="33" fill="#4D4D4D" text-anchor="end" dominant-baseline="central">100</text>
<text class="t" transform="translate(106 718.6) scale(1 1.05)" font-size="33" fill="#4D4D4D" text-anchor="end" dominant-baseline="central">120</text>
<text class="t" transform="translate(186 1151.1) scale(1 1.05)" font-size="33" fill="#4D4D4D" text-anchor="middle">BW4</text>
<text class="t" transform="translate(288.45 1151.1) scale(1 1.05)" font-size="33" fill="#4D4D4D" text-anchor="middle">W0</text>
<text class="t" transform="translate(390.9 1151.1) scale(1 1.05)" font-size="33" fill="#4D4D4D" text-anchor="middle">W4</text>
<text class="t" transform="translate(493.35 1151.1) scale(1 1.05)" font-size="33" fill="#4D4D4D" text-anchor="middle">W8</text>
<text class="t" font-size="41.3" fill="#000" text-anchor="middle" transform="translate(32.3 904.9) rotate(-90) scale(1 1.04)">NCI score</text>
<text class="t" x="2.51" y="676.9" font-size="42" font-weight="bold" fill="#000">D</text>
<line x1="164" x2="476" y1="655.5" y2="655.5" stroke="#0864B8" stroke-width="3.3"/>
<line x1="271.7" x2="476" y1="664.1" y2="664.1" stroke="#0864B8" stroke-width="3.3"/>
<line x1="164" x2="368.8" y1="672.65" y2="672.65" stroke="#0864B8" stroke-width="3.3"/>
<line x1="268.7" x2="371.8" y1="681.3" y2="681.3" stroke="#0864B8" stroke-width="3.3"/>
<line x1="164" x2="267.5" y1="689.95" y2="689.95" stroke="#0864B8" stroke-width="3.3"/>
<line x1="373.4" x2="476" y1="689.95" y2="689.95" stroke="#0864B8" stroke-width="3.3"/>
<clipPath id="cE"><rect x="720.95" y="700.3" width="430.1" height="408.55"/></clipPath>
<g clip-path="url(#cE)">
<line x1="720.95" x2="1151.05" y1="1044.22" y2="1044.22" stroke="#EBEBEB" stroke-width="1.7"/>
<line x1="720.95" x2="1151.05" y1="951.3" y2="951.3" stroke="#EBEBEB" stroke-width="1.7"/>
<line x1="720.95" x2="1151.05" y1="858.38" y2="858.38" stroke="#EBEBEB" stroke-width="1.7"/>
<line x1="720.95" x2="1151.05" y1="765.46" y2="765.46" stroke="#EBEBEB" stroke-width="1.7"/>
<line x1="720.95" x2="1151.05" y1="1090.68" y2="1090.68" stroke="#EBEBEB" stroke-width="3.4"/>
<line x1="720.95" x2="1151.05" y1="997.76" y2="997.76" stroke="#EBEBEB" stroke-width="3.4"/>
<line x1="720.95" x2="1151.05" y1="904.84" y2="904.84" stroke="#EBEBEB" stroke-width="3.4"/>
<line x1="720.95" x2="1151.05" y1="811.92" y2="811.92" stroke="#EBEBEB" stroke-width="3.4"/>
<line x1="720.95" x2="1151.05" y1="719" y2="719" stroke="#EBEBEB" stroke-width="3.4"/>
<line x1="782.4" x2="782.4" y1="700.3" y2="1108.85" stroke="#EBEBEB" stroke-width="3.4"/>
<line x1="884.85" x2="884.85" y1="700.3" y2="1108.85" stroke="#EBEBEB" stroke-width="3.4"/>
<line x1="987.3" x2="987.3" y1="700.3" y2="1108.85" stroke="#EBEBEB" stroke-width="3.4"/>
<line x1="1089.75" x2="1089.75" y1="700.3" y2="1108.85" stroke="#EBEBEB" stroke-width="3.4"/>
<line x1="763.2" x2="763.2" y1="788.39" y2="813.48" stroke="#333333" stroke-width="3.4"/>
<line x1="763.2" x2="763.2" y1="885.96" y2="974.23" stroke="#333333" stroke-width="3.4"/>
<rect x="745.7" y="813.48" width="35" height="72.48" fill="#ADD8E6" stroke="#333333" stroke-width="3.4"/>
<line x1="745.7" x2="780.7" y1="825.56" y2="825.56" stroke="#333333" stroke-width="7.1"/>
<line x1="801.6" x2="801.6" y1="765.16" y2="779.1" stroke="#333333" stroke-width="3.4"/>
<line x1="801.6" x2="801.6" y1="864.12" y2="867.37" stroke="#333333" stroke-width="3.4"/>
<rect x="784.1" y="779.1" width="35" height="85.02" fill="#FFC0CB" stroke="#333333" stroke-width="3.4"/>
<line x1="784.1" x2="819.1" y1="823.24" y2="823.24" stroke="#333333" stroke-width="7.1"/>
<line x1="865.65" x2="865.65" y1="765.16" y2="781.89" stroke="#333333" stroke-width="3.4"/>
<line x1="865.65" x2="865.65" y1="811.62" y2="839.5" stroke="#333333" stroke-width="3.4"/>
<rect x="848.15" y="781.89" width="35" height="29.73" fill="#ADD8E6" stroke="#333333" stroke-width="3.4"/>
<line x1="848.15" x2="883.15" y1="805.12" y2="805.12" stroke="#333333" stroke-width="7.1"/>
<circle cx="865.65" cy="899.89" r="7.8" fill="#333333"/>
<line x1="904.05" x2="904.05" y1="769.81" y2="774.45" stroke="#333333" stroke-width="3.4"/>
<line x1="904.05" x2="904.05" y1="809.76" y2="858.08" stroke="#333333" stroke-width="3.4"/>
<rect x="886.55" y="774.45" width="35" height="35.31" fill="#FFC0CB" stroke="#333333" stroke-width="3.4"/>
<line x1="886.55" x2="921.55" y1="783.74" y2="783.74" stroke="#333333" stroke-width="7.1"/>
<line x1="968.1" x2="968.1" y1="741.93" y2="774.45" stroke="#333333" stroke-width="3.4"/>
<line x1="968.1" x2="968.1" y1="806.97" y2="848.79" stroke="#333333" stroke-width="3.4"/>
<rect x="950.6" y="774.45" width="35" height="32.52" fill="#ADD8E6" stroke="#333333" stroke-width="3.4"/>
<line x1="950.6" x2="985.6" y1="797.68" y2="797.68" stroke="#333333" stroke-width="7.1"/>
<line x1="1006.5" x2="1006.5" y1="751.22" y2="758.66" stroke="#333333" stroke-width="3.4"/>
<line x1="1006.5" x2="1006.5" y1="827.42" y2="904.54" stroke="#333333" stroke-width="3.4"/>
<rect x="989" y="758.66" width="35" height="68.76" fill="#FFC0CB" stroke="#333333" stroke-width="3.4"/>
<line x1="989" x2="1024" y1="781.42" y2="781.42" stroke="#333333" stroke-width="7.1"/>
<line x1="1070.55" x2="1070.55" y1="746.58" y2="768.88" stroke="#333333" stroke-width="3.4"/>
<line x1="1070.55" x2="1070.55" y1="789.78" y2="806.97" stroke="#333333" stroke-width="3.4"/>
<rect x="1053.05" y="768.88" width="35" height="20.91" fill="#ADD8E6" stroke="#333333" stroke-width="3.4"/>
<line x1="1053.05" x2="1088.05" y1="779.1" y2="779.1" stroke="#333333" stroke-width="7.1"/>
<circle cx="1070.55" cy="825.56" r="7.8" fill="#333333"/>
<circle cx="1070.55" cy="830.2" r="7.8" fill="#333333"/>
<rect x="1091.45" y="783.74" width="35" height="38.56" fill="#FFC0CB" stroke="#333333" stroke-width="3.4"/>
<line x1="1091.45" x2="1126.45" y1="791.18" y2="791.18" stroke="#333333" stroke-width="7.1"/>
<circle cx="1108.95" cy="895.25" r="7.8" fill="#333333"/>
</g>
<rect x="721.9" y="701.25" width="428.2" height="406.65" fill="none" stroke="#1c1c1c" stroke-width="1.9"/>
<line x1="710.45" x2="720.95" y1="1090.68" y2="1090.68" stroke="#333333" stroke-width="3.4"/>
<line x1="710.45" x2="720.95" y1="997.76" y2="997.76" stroke="#333333" stroke-width="3.4"/>
<line x1="710.45" x2="720.95" y1="904.84" y2="904.84" stroke="#333333" stroke-width="3.4"/>
<line x1="710.45" x2="720.95" y1="811.92" y2="811.92" stroke="#333333" stroke-width="3.4"/>
<line x1="710.45" x2="720.95" y1="719" y2="719" stroke="#333333" stroke-width="3.4"/>
<line x1="782.4" x2="782.4" y1="1108.85" y2="1119.35" stroke="#333333" stroke-width="3.4"/>
<line x1="884.85" x2="884.85" y1="1108.85" y2="1119.35" stroke="#333333" stroke-width="3.4"/>
<line x1="987.3" x2="987.3" y1="1108.85" y2="1119.35" stroke="#333333" stroke-width="3.4"/>
<line x1="1089.75" x2="1089.75" y1="1108.85" y2="1119.35" stroke="#333333" stroke-width="3.4"/>
<text class="t" transform="translate(702.4 1090.28) scale(1 1.05)" font-size="33" fill="#4D4D4D" text-anchor="end" dominant-baseline="central">40</text>
<text class="t" transform="translate(702.4 997.36) scale(1 1.05)" font-size="33" fill="#4D4D4D" text-anchor="end" dominant-baseline="central">60</text>
<text class="t" transform="translate(702.4 904.44) scale(1 1.05)" font-size="33" fill="#4D4D4D" text-anchor="end" dominant-baseline="central">80</text>
<text class="t" transform="translate(702.4 811.52) scale(1 1.05)" font-size="33" fill="#4D4D4D" text-anchor="end" dominant-baseline="central">100</text>
<text class="t" transform="translate(702.4 718.6) scale(1 1.05)" font-size="33" fill="#4D4D4D" text-anchor="end" dominant-baseline="central">120</text>
<text class="t" transform="translate(782.4 1151.1) scale(1 1.05)" font-size="33" fill="#4D4D4D" text-anchor="middle">BW4</text>
<text class="t" transform="translate(884.85 1151.1) scale(1 1.05)" font-size="33" fill="#4D4D4D" text-anchor="middle">W0</text>
<text class="t" transform="translate(987.3 1151.1) scale(1 1.05)" font-size="33" fill="#4D4D4D" text-anchor="middle">W4</text>
<text class="t" transform="translate(1089.75 1151.1) scale(1 1.05)" font-size="33" fill="#4D4D4D" text-anchor="middle">W8</text>
<text class="t" font-size="41.3" fill="#000" text-anchor="middle" transform="translate(628.7 904.9) rotate(-90) scale(1 1.04)">NCI score</text>
<text class="t" x="599.76" y="676.9" font-size="42" font-weight="bold" fill="#000">E</text>
<line x1="762" x2="1074" y1="655.5" y2="655.5" stroke="#0864B8" stroke-width="3.3"/>
<line x1="869.7" x2="1074" y1="664.1" y2="664.1" stroke="#0864B8" stroke-width="3.3"/>
<line x1="762" x2="966.8" y1="672.65" y2="672.65" stroke="#0864B8" stroke-width="3.3"/>
<line x1="762" x2="865.5" y1="689.95" y2="689.95" stroke="#0864B8" stroke-width="3.3"/>
<clipPath id="cF"><rect x="1317.25" y="700.3" width="430.1" height="408.55"/></clipPath>
<g clip-path="url(#cF)">
<line x1="1317.25" x2="1747.35" y1="1044.22" y2="1044.22" stroke="#EBEBEB" stroke-width="1.7"/>
<line x1="1317.25" x2="1747.35" y1="951.3" y2="951.3" stroke="#EBEBEB" stroke-width="1.7"/>
<line x1="1317.25" x2="1747.35" y1="858.38" y2="858.38" stroke="#EBEBEB" stroke-width="1.7"/>
<line x1="1317.25" x2="1747.35" y1="765.46" y2="765.46" stroke="#EBEBEB" stroke-width="1.7"/>
<line x1="1317.25" x2="1747.35" y1="1090.68" y2="1090.68" stroke="#EBEBEB" stroke-width="3.4"/>
<line x1="1317.25" x2="1747.35" y1="997.76" y2="997.76" stroke="#EBEBEB" stroke-width="3.4"/>
<line x1="1317.25" x2="1747.35" y1="904.84" y2="904.84" stroke="#EBEBEB" stroke-width="3.4"/>
<line x1="1317.25" x2="1747.35" y1="811.92" y2="811.92" stroke="#EBEBEB" stroke-width="3.4"/>
<line x1="1317.25" x2="1747.35" y1="719" y2="719" stroke="#EBEBEB" stroke-width="3.4"/>
<line x1="1378.7" x2="1378.7" y1="700.3" y2="1108.85" stroke="#EBEBEB" stroke-width="3.4"/>
<line x1="1481.15" x2="1481.15" y1="700.3" y2="1108.85" stroke="#EBEBEB" stroke-width="3.4"/>
<line x1="1583.6" x2="1583.6" y1="700.3" y2="1108.85" stroke="#EBEBEB" stroke-width="3.4"/>
<line x1="1686.05" x2="1686.05" y1="700.3" y2="1108.85" stroke="#EBEBEB" stroke-width="3.4"/>
<line x1="1359.5" x2="1359.5" y1="765.16" y2="800.93" stroke="#333333" stroke-width="3.4"/>
<line x1="1359.5" x2="1359.5" y1="876.66" y2="895.25" stroke="#333333" stroke-width="3.4"/>
<rect x="1342" y="800.93" width="35" height="75.73" fill="#ADD8E6" stroke="#333333" stroke-width="3.4"/>
<line x1="1342" x2="1377" y1="825.56" y2="825.56" stroke="#333333" stroke-width="7.1"/>
<circle cx="1359.5" cy="1025.34" r="7.8" fill="#333333"/>
<line x1="1397.9" x2="1397.9" y1="783.74" y2="786.53" stroke="#333333" stroke-width="3.4"/>
<line x1="1397.9" x2="1397.9" y1="809.76" y2="811.62" stroke="#333333" stroke-width="3.4"/>
<rect x="1380.4" y="786.53" width="35" height="23.23" fill="#FFC0CB" stroke="#333333" stroke-width="3.4"/>
<line x1="1380.4" x2="1415.4" y1="797.68" y2="797.68" stroke="#333333" stroke-width="7.1"/>
<circle cx="1397.9" cy="974.23" r="7.8" fill="#333333"/>
<line x1="1461.95" x2="1461.95" y1="765.16" y2="793.97" stroke="#333333" stroke-width="3.4"/>
<line x1="1461.95" x2="1461.95" y1="844.14" y2="881.31" stroke="#333333" stroke-width="3.4"/>
<rect x="1444.45" y="793.97" width="35" height="50.18" fill="#ADD8E6" stroke="#333333" stroke-width="3.4"/>
<line x1="1444.45" x2="1479.45" y1="816.27" y2="816.27" stroke="#333333" stroke-width="7.1"/>
<circle cx="1461.95" cy="997.46" r="7.8" fill="#333333"/>
<line x1="1500.35" x2="1500.35" y1="765.16" y2="777.7" stroke="#333333" stroke-width="3.4"/>
<line x1="1500.35" x2="1500.35" y1="792.57" y2="802.33" stroke="#333333" stroke-width="3.4"/>
<rect x="1482.85" y="777.7" width="35" height="14.87" fill="#FFC0CB" stroke="#333333" stroke-width="3.4"/>
<line x1="1482.85" x2="1517.85" y1="783.74" y2="783.74" stroke="#333333" stroke-width="7.1"/>
<line x1="1564.4" x2="1564.4" y1="718.7" y2="770.27" stroke="#333333" stroke-width="3.4"/>
<line x1="1564.4" x2="1564.4" y1="818.59" y2="853.43" stroke="#333333" stroke-width="3.4"/>
<rect x="1546.9" y="770.27" width="35" height="48.32" fill="#ADD8E6" stroke="#333333" stroke-width="3.4"/>
<line x1="1546.9" x2="1581.9" y1="797.68" y2="797.68" stroke="#333333" stroke-width="7.1"/>
<circle cx="1564.4" cy="904.54" r="7.8" fill="#333333"/>
<line x1="1602.8" x2="1602.8" y1="765.16" y2="772.59" stroke="#333333" stroke-width="3.4"/>
<line x1="1602.8" x2="1602.8" y1="793.04" y2="797.68" stroke="#333333" stroke-width="3.4"/>
<rect x="1585.3" y="772.59" width="35" height="20.44" fill="#FFC0CB" stroke="#333333" stroke-width="3.4"/>
<line x1="1585.3" x2="1620.3" y1="783.74" y2="783.74" stroke="#333333" stroke-width="7.1"/>
<circle cx="1602.8" cy="890.6" r="7.8" fill="#333333"/>
<line x1="1666.85" x2="1666.85" y1="751.22" y2="774.45" stroke="#333333" stroke-width="3.4"/>
<line x1="1666.85" x2="1666.85" y1="796.75" y2="825.56" stroke="#333333" stroke-width="3.4"/>
<rect x="1649.35" y="774.45" width="35" height="22.3" fill="#ADD8E6" stroke="#333333" stroke-width="3.4"/>
<line x1="1649.35" x2="1684.35" y1="783.74" y2="783.74" stroke="#333333" stroke-width="7.1"/>
<circle cx="1666.85" cy="834.85" r="7.8" fill="#333333"/>
<line x1="1705.25" x2="1705.25" y1="779.1" y2="784.21" stroke="#333333" stroke-width="3.4"/>
<line x1="1705.25" x2="1705.25" y1="806.97" y2="820.91" stroke="#333333" stroke-width="3.4"/>
<rect x="1687.75" y="784.21" width="35" height="22.77" fill="#FFC0CB" stroke="#333333" stroke-width="3.4"/>
<line x1="1687.75" x2="1722.75" y1="793.04" y2="793.04" stroke="#333333" stroke-width="7.1"/>
</g>
<rect x="1318.2" y="701.25" width="428.2" height="406.65" fill="none" stroke="#1c1c1c" stroke-width="1.9"/>
<line x1="1306.75" x2="1317.25" y1="1090.68" y2="1090.68" stroke="#333333" stroke-width="3.4"/>
<line x1="1306.75" x2="1317.25" y1="997.76" y2="997.76" stroke="#333333" stroke-width="3.4"/>
<line x1="1306.75" x2="1317.25" y1="904.84" y2="904.84" stroke="#333333" stroke-width="3.4"/>
<line x1="1306.75" x2="1317.25" y1="811.92" y2="811.92" stroke="#333333" stroke-width="3.4"/>
<line x1="1306.75" x2="1317.25" y1="719" y2="719" stroke="#333333" stroke-width="3.4"/>
<line x1="1378.7" x2="1378.7" y1="1108.85" y2="1119.35" stroke="#333333" stroke-width="3.4"/>
<line x1="1481.15" x2="1481.15" y1="1108.85" y2="1119.35" stroke="#333333" stroke-width="3.4"/>
<line x1="1583.6" x2="1583.6" y1="1108.85" y2="1119.35" stroke="#333333" stroke-width="3.4"/>
<line x1="1686.05" x2="1686.05" y1="1108.85" y2="1119.35" stroke="#333333" stroke-width="3.4"/>
<text class="t" transform="translate(1298.7 1090.28) scale(1 1.05)" font-size="33" fill="#4D4D4D" text-anchor="end" dominant-baseline="central">40</text>
<text class="t" transform="translate(1298.7 997.36) scale(1 1.05)" font-size="33" fill="#4D4D4D" text-anchor="end" dominant-baseline="central">60</text>
<text class="t" transform="translate(1298.7 904.44) scale(1 1.05)" font-size="33" fill="#4D4D4D" text-anchor="end" dominant-baseline="central">80</text>
<text class="t" transform="translate(1298.7 811.52) scale(1 1.05)" font-size="33" fill="#4D4D4D" text-anchor="end" dominant-baseline="central">100</text>
<text class="t" transform="translate(1298.7 718.6) scale(1 1.05)" font-size="33" fill="#4D4D4D" text-anchor="end" dominant-baseline="central">120</text>
<text class="t" transform="translate(1378.7 1151.1) scale(1 1.05)" font-size="33" fill="#4D4D4D" text-anchor="middle">BW4</text>
<text class="t" transform="translate(1481.15 1151.1) scale(1 1.05)" font-size="33" fill="#4D4D4D" text-anchor="middle">W0</text>
<text class="t" transform="translate(1583.6 1151.1) scale(1 1.05)" font-size="33" fill="#4D4D4D" text-anchor="middle">W4</text>
<text class="t" transform="translate(1686.05 1151.1) scale(1 1.05)" font-size="33" fill="#4D4D4D" text-anchor="middle">W8</text>
<text class="t" font-size="41.3" fill="#000" text-anchor="middle" transform="translate(1225 904.9) rotate(-90) scale(1 1.04)">NCI score</text>
<text class="t" x="1196.14" y="676.9" font-size="42" font-weight="bold" fill="#000">F</text>
<line x1="1356.4" x2="1668.4" y1="655.5" y2="655.5" stroke="#0864B8" stroke-width="3.3"/>
<line x1="1464.1" x2="1668.4" y1="664.1" y2="664.1" stroke="#0864B8" stroke-width="3.3"/>
<line x1="1356.4" x2="1561.2" y1="672.65" y2="672.65" stroke="#0864B8" stroke-width="3.3"/>
<line x1="1461.1" x2="1564.2" y1="681.3" y2="681.3" stroke="#0864B8" stroke-width="3.3"/>
<line x1="1565.8" x2="1668.4" y1="689.95" y2="689.95" stroke="#0864B8" stroke-width="3.3"/>
</svg></body></html>
